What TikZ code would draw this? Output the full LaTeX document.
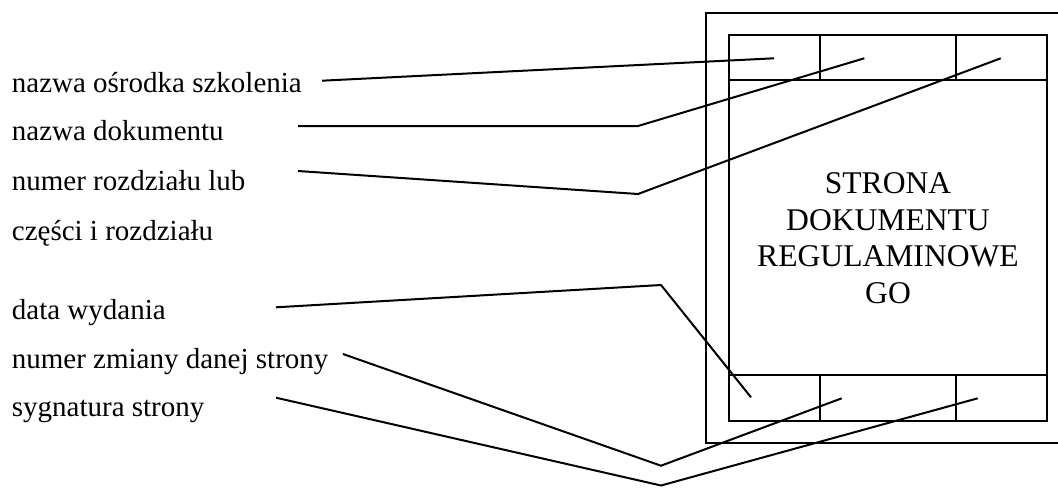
\documentclass[tikz,border=0pt]{standalone}
\usepackage{fontspec}
\setmainfont{Liberation Serif}
\usetikzlibrary{positioning}
\begin{document}
\begin{tikzpicture}[x=0.5pt,y=-0.5pt]
        \tikzstyle{lbl}=[inner sep=0pt, anchor=base west, font=\fontsize{14.5}{17}\selectfont]
        \tikzstyle{frame}=[line width=1pt]
        \tikzstyle{connect}=[line width=1pt]
        \useasboundingbox (0,0) rectangle (1058,487);
        % strona dokumentu
        \draw[frame] (1058,12.7) -- (706,12.7) -- (706,443.3) -- (1058,443.3);
        \draw[frame] (729,35) rectangle (1047,421);
        \draw[frame] (729,80.3) -- (1047,80.3) (729,375) -- (1047,375);
        \foreach \x in {820,956}
          \draw[frame] (\x,35) -- (\x,80.3) (\x,375) -- (\x,421);
        \node[align=center, inner sep=0pt, anchor=base, font=\fontsize{15.8}{18.25}\selectfont] (strona) at (888,303.3) {STRONA\\DOKUMENTU\\REGULAMINOWE\\GO};
        % opisy
        \node[lbl] (osrodek) at (11.5,92) {nazwa ośrodka szkolenia};
        \node[lbl] (dokument) at (11.5,140) {nazwa dokumentu};
        \node[lbl] (rozdzial) at (11.5,190.7) {numer rozdziału lub};
        \node[lbl] (czesci) at (11.5,240) {części i rozdziału};
        \node[lbl] (data) at (11.5,319.3) {data wydania};
        \node[lbl] (zmiana) at (11.5,368.3) {numer zmiany danej strony};
        \node[lbl] (sygnatura) at (11.5,416.7) {sygnatura strony};
        % poczatki, zalamania i konce linii
        \coordinate (s1) at (322,80.7);   \coordinate (k1) at (774,58.3);
        \coordinate (s2) at (298,126);    \coordinate (b2) at (638,126);   \coordinate (k2) at (864.3,58.3);
        \coordinate (s3) at (298,171);    \coordinate (b3) at (638,194);   \coordinate (k3) at (1000.7,58.3);
        \coordinate (s4) at (276,307.3);  \coordinate (b4) at (661,285);   \coordinate (k4) at (751,397.3);
        \coordinate (s5) at (343,354);    \coordinate (b5) at (661,465.7); \coordinate (k5) at (841.7,398.3);
        \coordinate (s6) at (276,397.7);  \coordinate (b6) at (661,485.5); \coordinate (k6) at (977.7,398.3);
        \draw[connect] (s1) -- (k1);
        \draw[connect] (s2) -- (b2) -- (k2);
        \draw[connect] (s3) -- (b3) -- (k3);
        \draw[connect] (s4) -- (b4) -- (k4);
        \draw[connect] (s5) -- (b5) -- (k5);
        \draw[connect] (s6) -- (b6) -- (k6);
\end{tikzpicture}
\end{document}
